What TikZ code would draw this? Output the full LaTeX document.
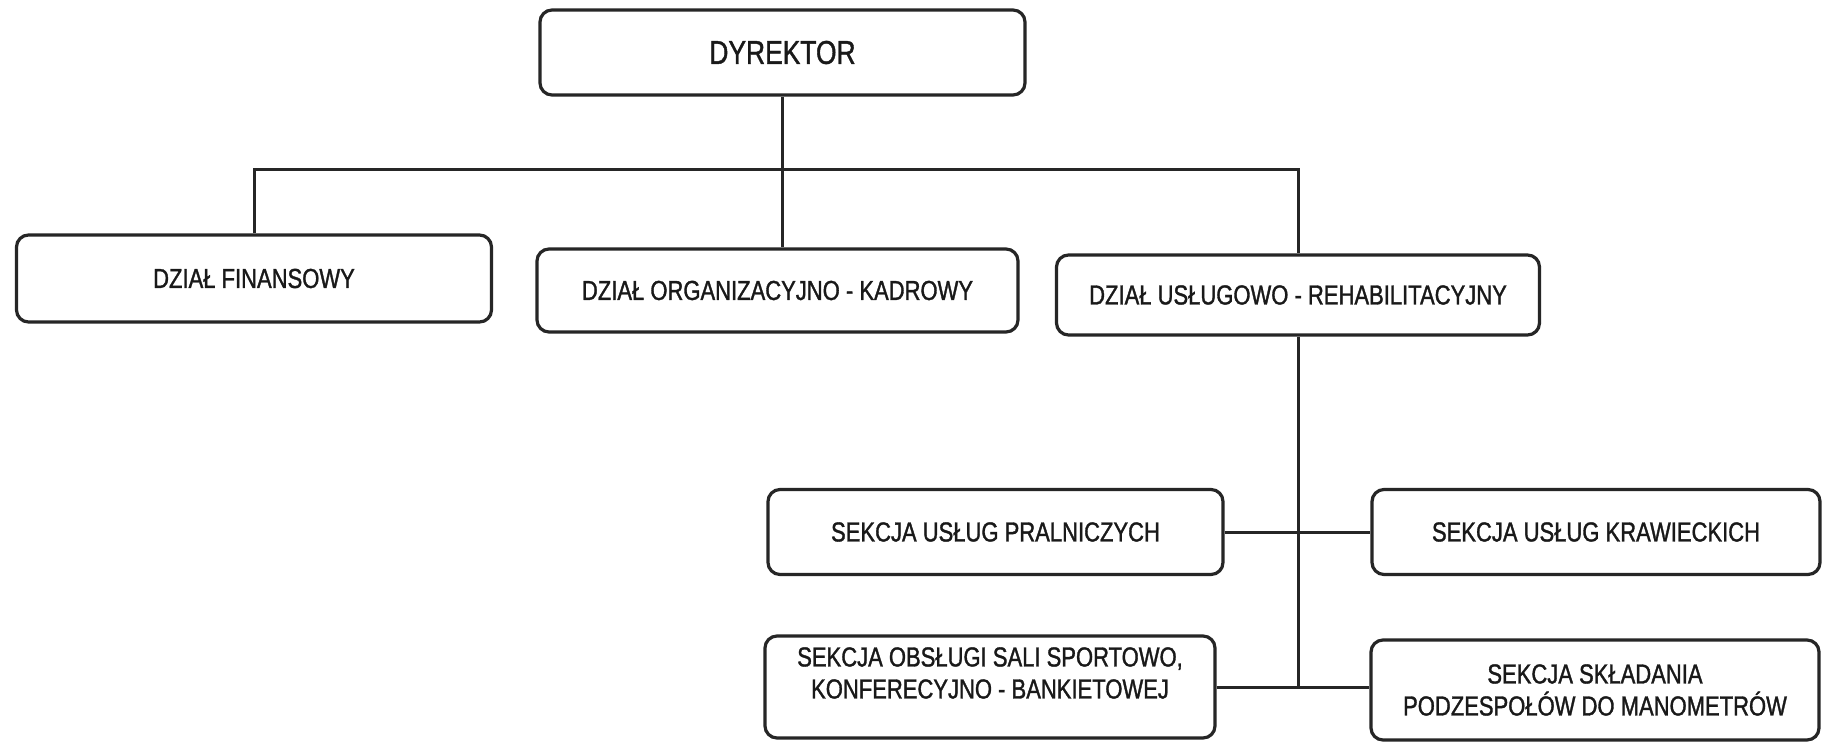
\documentclass[tikz,border=0pt]{standalone}
\usepackage{fontspec}
\setmainfont[FakeStretch=0.8, FakeBold=1.2]{Liberation Sans}
\begin{document}
\begin{tikzpicture}[x=1pt,y=-1pt,
  box/.style={draw=black!85, line width=3.2pt, rounded corners=12pt, inner sep=0pt,
    align=center, font=\fontsize{27.5}{32}\selectfont, text=black!90},
  conn/.style={draw=black!85, line width=3pt},
  lbl/.style={align=center, font=\fontsize{27.5}{32}\selectfont, text=black!90, inner sep=0pt}]
\useasboundingbox[fill=white] (0,0) rectangle (1823,743);

\node[box, minimum width=485pt, minimum height=85pt, font=\fontsize{33}{38}\selectfont] (dyr) at (782.5,52.5) {DYREKTOR};
\node[box, minimum width=475pt, minimum height=87pt] (fin) at (254,278.5) {DZIAŁ FINANSOWY};
\node[box, minimum width=481pt, minimum height=83pt] (org) at (777.5,290.5) {DZIAŁ ORGANIZACYJNO - KADROWY};
\node[box, minimum width=483pt, minimum height=80pt] (usl) at (1298,295) {DZIAŁ USŁUGOWO - REHABILITACYJNY};

\node[box, minimum width=455pt, minimum height=85pt] (pral) at (995.5,532) {SEKCJA USŁUG PRALNICZYCH};
\node[box, minimum width=448pt, minimum height=85pt] (kraw) at (1596,532) {SEKCJA USŁUG KRAWIECKICH};
\node[box, minimum width=450pt, minimum height=102pt,
  label={[lbl, yshift=14pt]center:SEKCJA OBSŁUGI SALI SPORTOWO,\\KONFERECYJNO - BANKIETOWEJ}] (sali) at (990,687) {};
\node[box, minimum width=448pt, minimum height=100pt] (skl) at (1595,690) {SEKCJA SKŁADANIA\\PODZESPOŁÓW DO MANOMETRÓW};

\coordinate (bus) at (0,170);

\draw[conn] (dyr.south) -- (dyr.south |- org.north);
\draw[conn] (fin.north) -- (fin.north |- bus) -- (usl.north |- bus) -- (usl.north);
\draw[conn] (usl.south) -- (usl.south |- sali.east);
\draw[conn] (pral.east) -- (kraw.west);
\draw[conn] (sali.east) -- (sali.east -| skl.west);
\end{tikzpicture}
\end{document}
